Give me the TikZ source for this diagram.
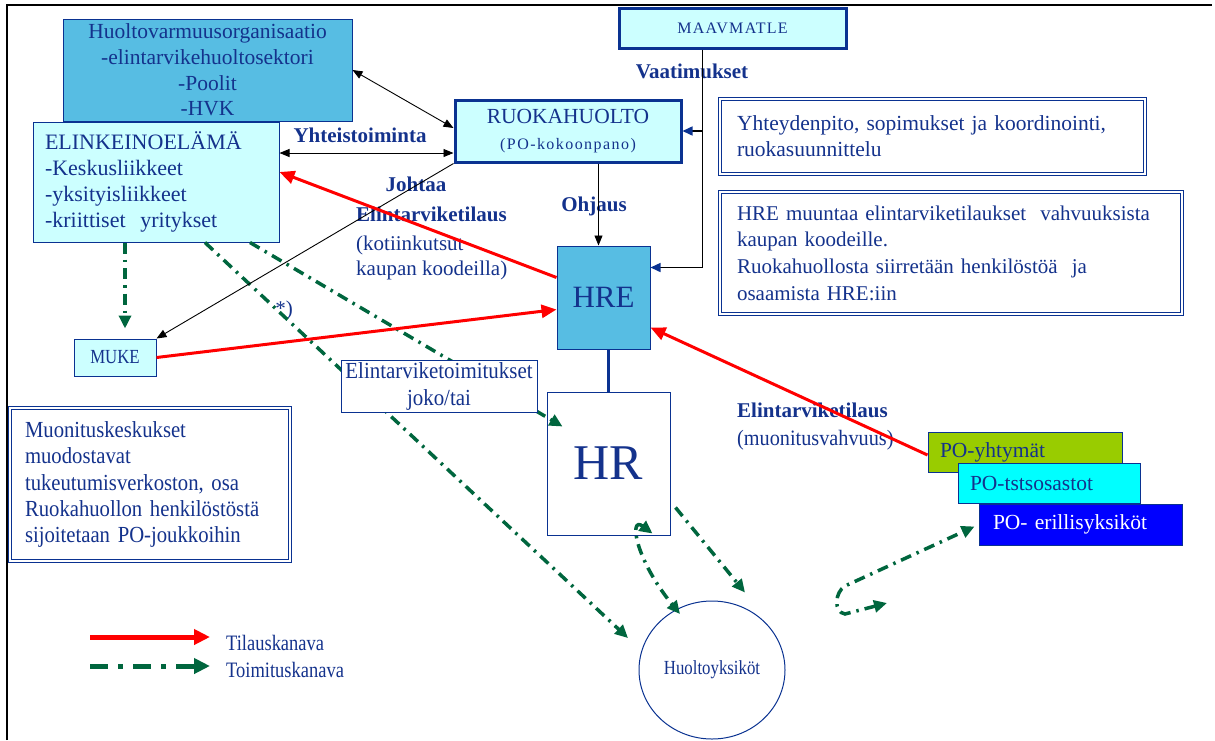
\documentclass[tikz,border=0pt]{standalone}
\usepackage{fontspec}
\setmainfont{Liberation Serif}
\usetikzlibrary{arrows.meta,shapes.geometric}

\definecolor{navytext}{RGB}{20,50,140}
\definecolor{boxline}{RGB}{10,50,145}
\definecolor{skyfill}{RGB}{87,189,227}
\definecolor{palefill}{RGB}{204,255,255}
\definecolor{supplygreen}{RGB}{0,102,62}
\definecolor{pogreen}{RGB}{153,204,0}
\definecolor{pocyan}{RGB}{0,255,255}
\definecolor{poblue}{RGB}{0,0,255}

\newcommand{\fsbody}{\fontsize{21.5}{26}\selectfont}
\newcommand{\kapea}{\addfontfeature{FakeStretch=0.84}}

\begin{document}
\begin{tikzpicture}[x=1pt, y=-1pt, >={Triangle[length=10pt,width=8pt]},
  laatikko/.style={draw=boxline, line width=1pt, text=navytext, inner sep=0pt, font=\fsbody},
  kehys/.style={draw=boxline, line width=1pt, double=white, double distance=2pt, fill=white,
    text=navytext, align=left, inner ysep=0pt, font=\fsbody},
  otsikko/.style={text=navytext, inner sep=0pt, font=\fontsize{21}{26}\selectfont\bfseries},
  teksti/.style={text=navytext, inner sep=0pt, font=\fontsize{21}{26}\selectfont},
  ohje/.style={black, line width=0.9pt},
  tilaus/.style={red, line width=3pt, -{Triangle[length=15pt,width=13pt]}},
  toimitus/.style={supplygreen, line width=3.5pt, dash pattern=on 11pt off 6pt on 2.5pt off 6pt,
    -{Triangle[length=13pt,width=12pt]}},
  kaksi/.style={arrows={Triangle[length=13pt,width=12pt]}-{Triangle[length=13pt,width=12pt]}}]
  \useasboundingbox (0,0) rectangle (1215,740);
  \draw[line width=1.5pt] (7,740) -- (7,5) -- (1212,5);

  % organisaatiot
  \node[laatikko, fill=skyfill, minimum width=289pt, minimum height=102pt, align=center,
    font=\fontsize{21.5}{25.7}\selectfont] (hvo) at (207.5,70)
    {Huoltovarmuusorganisaatio\\-elintarvikehuoltosektori\\-Poolit\\-HVK};
  \node[laatikko, fill=palefill, minimum width=246pt, minimum height=120pt, text width=222pt,
    inner xsep=12pt, align=left, font=\fontsize{22}{26.3}\selectfont] (elinkeino) at (156,182)
    {ELINKEINOELÄMÄ\\-Keskusliikkeet\\-yksityisliikkeet\\-kriittiset\ \ yritykset};
  \node[laatikko, fill=palefill, line width=3pt, minimum width=227pt, minimum height=40pt,
    font=\fontsize{16}{18}\selectfont\addfontfeature{LetterSpace=8}] (maav) at (732.5,28) {MAAVMATLE};
  \node[laatikko, fill=palefill, line width=3pt, minimum width=226pt, minimum height=62pt,
    align=center] (ruoka) at (568,131)
    {RUOKAHUOLTO\\{\fontsize{16}{18}\selectfont\addfontfeature{LetterSpace=9}(PO-kokoonpano)}};
  \node[laatikko, fill=skyfill, minimum width=93pt, minimum height=103pt,
    font=\fontsize{31}{36}\selectfont] (hre) at (603.5,297.5) {HRE};
  \node[laatikko, fill=white, minimum width=123pt, minimum height=143pt,
    font=\fontsize{50}{60}\selectfont] (hr) at (608.5,463.5) {HR};
  \node[laatikko, fill=palefill, minimum width=82pt, minimum height=37pt,
    font=\fontsize{20}{22}\selectfont\kapea] (muke) at (115,357.5) {MUKE};
  \node[laatikko, ellipse, minimum width=146pt, minimum height=138pt,
    font=\fontsize{20}{22}\selectfont\kapea] (hy) at (712,670) {Huoltoyksiköt};

  % selitelaatikot
  \node[kehys, text width=250pt, inner xsep=15pt, minimum height=153pt,
    font=\fontsize{23}{26.3}\selectfont\addfontfeature{FakeStretch=0.9}]
    (muon) at (150,484.5)
    {Muonituskeskukset\\muodostavat\\tukeutumisverkoston, osa\\Ruokahuollon henkilöstöstä\\sijoitetaan PO-joukkoihin};
  \node[kehys, text width=391pt, inner xsep=17pt, minimum height=75pt] (yht) at (932.5,136.5)
    {Yhteydenpito, sopimukset ja koordinointi,\\ruokasuunnittelu};
  \node[kehys, text width=428pt, inner xsep=17pt, minimum height=122pt, font=\fontsize{21}{26.7}\selectfont]
    (hrem) at (951,253)
    {HRE muuntaa elintarviketilaukset\ \ vahvuuksista\\kaupan koodeille.\\Ruokahuollosta siirretään henkilöstöä\ \ ja\\osaamista HRE:iin};

  % PO-yksiköt
  \node[laatikko, fill=pogreen, minimum width=194pt, minimum height=40pt, text width=170pt,
    inner xsep=12pt, align=left] (yhtymat) at (1025,452) {PO-yhtymät};
  \node[laatikko, fill=pocyan, minimum width=182pt, minimum height=40pt, text width=158pt,
    inner xsep=12pt, align=left] (osastot) at (1049,483) {PO-tstsosastot};
  \node[laatikko, fill=poblue, text=white, minimum width=203pt, minimum height=41pt, text width=175pt,
    inner xsep=14pt, align=left] (erillis) at (1080.5,524.5) {PO- erillisyksiköt};

  % tekstit
  \node[otsikko] (vaat) at (692,71) {Vaatimukset};
  \node[otsikko] (yhteis) at (360,135) {Yhteistoiminta};
  \node[otsikko] (ohjaus) at (594,206) {Ohjaus};
  \node[otsikko] (johtaa) at (416,184) {Johtaa};
  \node[otsikko, anchor=base west] (kotitilaus) at (356,221) {Elintarviketilaus};
  \node[teksti, anchor=base west] (kotiink) at (356,250) {(kotiinkutsut};
  \node[teksti, anchor=base west] (koodit) at (356,275) {kaupan koodeilla)};
  \node[otsikko, anchor=base west] (muontilaus) at (737,417) {Elintarviketilaus};
  \node[teksti, anchor=base west, font=\fontsize{22}{26}\selectfont\addfontfeature{FakeStretch=0.92}]
    (vahvuus) at (737,445) {(muonitusvahvuus)};
  \node[teksti] (tahti) at (284,310) {*)};

  % toimituskanavat
  \coordinate (mukeyla) at ([xshift=10pt]muke.north);
  \draw[toimitus, shorten >=10pt] (elinkeino.south -| mukeyla) -- (mukeyla);
  \draw[toimitus] ([xshift=49pt]elinkeino.south) -- ([xshift=-84pt,yshift=32pt]hy.center);
  \draw[toimitus] ([xshift=94pt]elinkeino.south) -- ([xshift=16pt,yshift=-35pt]hr.north west);
  \coordinate (hrkoukku) at ([xshift=-18pt,yshift=2pt]hr.south east);
  \coordinate (hyvasen) at ([xshift=-32pt,yshift=56pt]hy.center);
  \draw[toimitus, kaksi] (hrkoukku) .. controls +(-24,-18) and +(-45,-55) .. (hyvasen);
  \draw[toimitus] ([xshift=5pt,yshift=-44pt]hr.east) -- ([xshift=33pt,yshift=8pt]hy.north);
  \coordinate (hyoikea) at ([xshift=175pt,yshift=67pt]hy.center);
  \coordinate (erillisto) at ([xshift=-4pt,yshift=-2pt]erillis.west);
  \draw[toimitus, kaksi] (hyoikea) -- ++(-42,11) .. controls +(-12,-2) and +(-10,6) .. ++(0,-28) -- (erillisto);

  \node[laatikko, fill=white, minimum width=196pt, minimum height=52pt, align=center,
    font=\fontsize{23}{27}\selectfont\addfontfeature{FakeStretch=0.91}] (toimitukset) at (439,386)
    {Elintarviketoimitukset\\joko/tai};

  % ohjaus ja yhteistoiminta
  \draw[ohje, <->] (hvo.east) -- ([yshift=3pt]ruoka.west);
  \coordinate (yk) at ([yshift=-22pt]ruoka.west);
  \draw[ohje, <->] (elinkeino.east |- yk) -- (yk);
  \draw[ohje, ->] (ruoka.south west) -- (muke.north east);
  \coordinate (ylos) at ([xshift=-30pt]maav.south);
  \draw[ohje, line width=1.5pt, -{Triangle[length=10pt,width=9pt,color=boxline]}]
    (ylos) |- ([yshift=30pt]hre.east);
  \draw[ohje, line width=1.5pt, -{Triangle[length=10pt,width=9pt,color=boxline]}]
    (ylos |- ruoka.east) -- (ruoka.east);
  \coordinate (ohjausala) at ([xshift=-5pt]hre.north);
  \draw[ohje, ->] (ruoka.south -| ohjausala) -- (ohjausala);
  \draw[boxline, line width=3pt] (hre.south -| hr.north) -- (hr.north);

  % tilauskanavat
  \draw[tilaus] ([yshift=20pt]hre.west) -- ([yshift=10pt]elinkeino.east);
  \draw[tilaus] (muke.east) -- ([yshift=-12pt]hre.west);
  \draw[tilaus] ([yshift=-3pt]yhtymat.west) -- ([yshift=-30pt]hre.east);

  % selite
  \coordinate (tilA) at (90,637);
  \coordinate (tilB) at (210,637);
  \draw[tilaus, line width=5pt, -{Triangle[length=16pt,width=15pt]}] (tilA) -- (tilB);
  \node[teksti, anchor=west, font=\fontsize{22}{24}\selectfont\kapea] (tilkan) at (226,643) {Tilauskanava};
  \coordinate (toiA) at (90,666);
  \coordinate (toiB) at (210,666);
  \draw[toimitus, line width=5pt, dash pattern=on 18pt off 10pt on 5pt off 10pt,
    -{Triangle[length=16pt,width=15pt]}] (toiA) -- (toiB);
  \node[teksti, anchor=west, font=\fontsize{22}{24}\selectfont\kapea] (toikan) at (226,670) {Toimituskanava};
\end{tikzpicture}
\end{document}
